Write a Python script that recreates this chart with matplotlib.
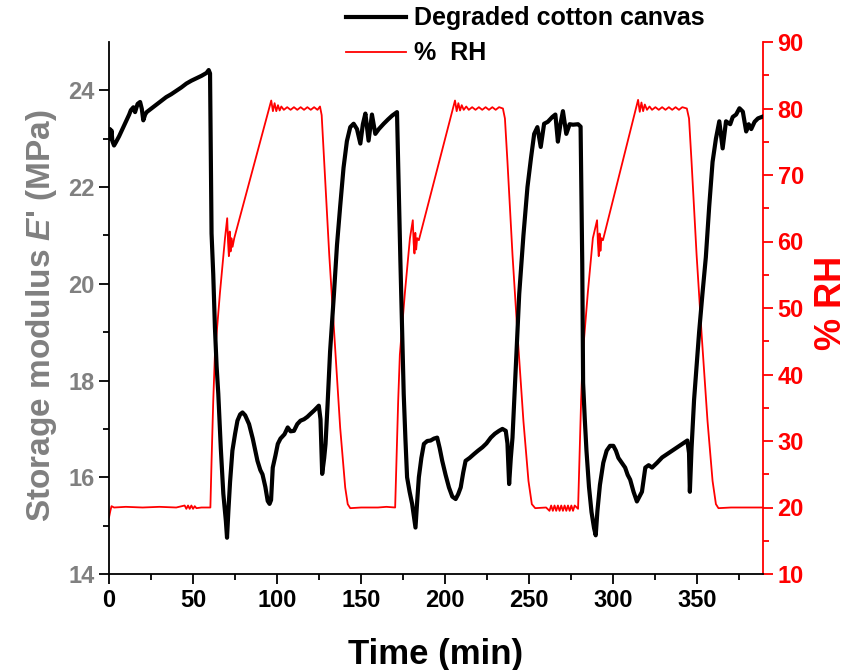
import numpy as np
import matplotlib
matplotlib.use("Agg")
import matplotlib.pyplot as plt

plt.rcParams['font.family'] = ['Liberation Sans', 'DejaVu Sans']
plt.rcParams['font.weight'] = 'bold'
plt.rcParams['mathtext.fontset'] = 'custom'
plt.rcParams['mathtext.it'] = 'Liberation Sans:italic:bold'
plt.rcParams['mathtext.rm'] = 'Liberation Sans:bold'

# Storage modulus E' (MPa) vs time (min)
mod_t = [0, 0.5, 1, 1.5, 2, 3, 4, 6, 8, 10, 12, 13, 14.5, 15.5, 17, 18.5, 19.5, 20.4, 21.5, 22.4,
         25, 28, 31, 34, 37, 40, 43, 46, 49, 52, 55, 58, 59.3,
         60.1, 61, 62, 63, 64, 65, 66.5, 68, 69.5, 70.2, 71, 72, 73.4, 75, 76.4, 78, 79.4, 81, 83.3,
         85.5, 88.3, 90, 91.3, 93, 94.4, 95.5, 96.4, 97.4, 99, 100.4, 102, 104.4, 106.3, 108, 110,
         112, 113.9, 116, 118, 119.8, 122, 124.8, 125.8, 126.8, 128, 128.8, 130, 131.5, 133.8,
         135.6, 137.5, 139.5, 141.5, 143.5, 145.5, 147.5, 149.5, 151, 152.5, 154.4, 156.4, 158.4,
         160.5, 163.4, 166, 168.5, 171.3,
         172.3, 173.3, 174.3, 175.3, 176.3, 177.3, 178.8, 180.3, 181.3, 182.3, 183.3, 184.3, 185.8,
         187.3, 189.3, 191.3, 193.3, 195.2, 196.7, 198.2, 200.2, 202.2, 204.2, 206.2, 207.7, 209.2,
         210.7, 212.1, 214.5, 217.1, 219.5, 222.1, 224.5, 227.1, 229.5, 232.0, 234, 236, 237, 238,
         239, 240, 242, 244, 246.5, 248.9, 251, 252.9, 254.8, 256.8, 258.8, 261, 263.7, 265.5, 267,
         268.5, 270, 272, 274, 276, 279, 280.5,
         281.5, 282, 283, 284, 285.5, 287, 288.5, 289.5, 290.5, 292, 294, 296, 298, 300, 301.5, 303,
         305, 307, 308.5, 310, 312, 314, 315.5, 317, 319, 321, 323, 326, 329, 332, 335, 338, 341,
         344, 345, 345.5, 346.5, 348, 349.5, 351, 353, 355, 357, 359, 361, 363, 365, 367, 369.5, 371,
         373, 375, 377, 379, 380.5, 382, 384, 386, 389]
mod_v = [23.0, 23.2, 23.05, 23.17, 22.95, 22.86, 22.92, 23.05, 23.2, 23.35, 23.5, 23.59, 23.65,
         23.55, 23.72, 23.76, 23.62, 23.38, 23.5, 23.55,
         23.62, 23.7, 23.78, 23.86, 23.92, 23.99, 24.06, 24.14, 24.2, 24.25, 24.3, 24.36, 24.42,
         24.35, 21.04, 20.2, 19.1, 18.3, 17.73, 16.6, 15.66, 15.1, 14.75, 15.3, 15.9, 16.55, 16.9,
         17.17, 17.3, 17.34, 17.28, 17.1,
         16.8, 16.34, 16.15, 16.06, 15.8, 15.51, 15.45, 15.53, 16.2, 16.45, 16.69, 16.8, 16.89,
         17.03, 16.95, 16.96, 17.1, 17.17, 17.2, 17.25, 17.31, 17.38, 17.48, 17.2, 16.07, 16.4,
         16.69, 17.5, 18.6, 19.79,
         20.8, 21.6, 22.4, 22.95, 23.24, 23.31, 23.2, 22.9, 23.3, 23.52, 22.96, 23.5, 23.1,
         23.2, 23.31, 23.4, 23.48, 23.55,
         22.0, 20.5, 19.1, 17.72, 16.8, 16.0, 15.7, 15.45, 15.2, 14.96, 15.5, 16.0, 16.4,
         16.69, 16.75, 16.76, 16.8, 16.82, 16.6, 16.34, 16.05, 15.79, 15.6, 15.55, 15.65, 15.79,
         16.1, 16.34, 16.4, 16.48, 16.55, 16.62, 16.7, 16.82, 16.9, 16.96, 17.0, 16.96, 16.7, 15.86,
         16.4, 16.82, 18.3, 19.79, 21.0, 22.0, 22.6, 23.1, 23.24, 22.83, 23.31, 23.35, 23.45, 23.5,
         22.94, 23.3, 23.57, 23.1, 23.3, 23.29, 23.3, 23.25,
         20.4, 17.95, 17.2, 16.55, 15.8, 15.28, 14.95, 14.8, 15.3, 15.84, 16.3, 16.55, 16.65, 16.65,
         16.55, 16.4, 16.3, 16.2, 16.05, 15.95, 15.7, 15.5, 15.6, 15.7, 16.2, 16.25, 16.2, 16.3,
         16.41, 16.48, 16.55, 16.62, 16.69, 16.76, 16.5, 15.7, 16.6, 17.6, 18.3, 19.0, 19.8, 20.55,
         21.6, 22.52, 23.0, 23.36, 22.8, 23.36, 23.3, 23.45, 23.5, 23.63, 23.56, 23.15, 23.3,
         23.2, 23.35, 23.42, 23.46]

# Relative humidity (%) vs time (min)
rh_t = [0, 0.8, 1.5, 3, 10, 20, 30, 40, 45, 46, 47, 48, 49, 50, 51, 52, 55, 60.3,
        61, 62, 63, 66, 69, 70.3, 70.8, 71.3, 71.8, 72.3, 72.8, 73.5, 74.5,
        96.5, 97.5, 98.5, 99.5, 100.5, 101.5, 102.5, 104, 106, 108, 110, 112, 114, 116, 118, 120,
        122, 124, 125.5,
        126.5, 128, 131, 134, 137.5, 140.5, 142, 143.5, 150, 160, 165, 170.2,
        171, 172, 173, 176, 179, 180.7, 181.2, 181.7, 182.2, 182.7, 183.3, 184.3,
        205.8, 206.8, 207.8, 208.8, 209.8, 211, 212.5, 214, 216, 218, 220, 222, 224, 226, 228, 230,
        232, 234.3,
        235.5, 237, 240, 243, 246.5, 249.5, 251.5, 253.5, 260, 262, 263, 264, 265, 266, 267, 268,
        269, 270, 271, 272, 273, 274, 275, 276, 277, 279,
        279.8, 280.8, 281.8, 284.8, 287.8, 290.3, 290.8, 291.3, 291.8, 292.3, 292.9, 293.8,
        314.7, 315.7, 316.7, 317.7, 318.7, 320, 321.5, 323, 325, 327, 329, 331, 333, 335, 337, 339,
        341, 343.7,
        345, 346.5, 349.5, 352.5, 356, 359, 361, 362.5, 370, 380, 389]
rh_v = [18.5, 19.5, 20.2, 20.0, 20.1, 20.0, 20.1, 20.0, 20.3, 19.8, 20.3, 19.8, 20.3, 19.8, 20.2,
        19.9, 20.0, 20.0,
        27, 36, 43, 52.3, 60.5, 63.5, 60, 57.8, 61.5, 58.5, 60.5, 59.2, 60.5,
        81.2, 79.6, 80.8, 79.6, 80.5, 79.7, 80.3, 79.8, 80.2, 79.8, 80.2, 79.8, 80.2, 79.8, 80.2,
        79.8, 80.2, 79.8, 80.3,
        79, 72, 58, 46, 32, 23, 20.5, 19.9, 20.0, 20.0, 20.1, 20.0,
        27, 36, 43, 52.3, 60.5, 63.2, 59.8, 58.2, 61.3, 58.8, 60.5, 60.2,
        81.2, 79.6, 80.8, 79.7, 80.5, 79.8, 80.3, 79.8, 80.2, 79.8, 80.2, 79.8, 80.2, 79.8, 80.2,
        79.8, 80.2, 80.0,
        78.5, 72, 58, 46, 33, 24, 20.5, 19.9, 20.0, 19.5, 20.3, 19.5, 20.3, 19.5, 20.3, 19.5, 20.3,
        19.5, 20.3, 19.5, 20.3, 19.5, 20.3, 19.5, 20.3, 19.8,
        27, 36, 43, 52.3, 60.5, 63.2, 59.8, 57.8, 61.2, 58.6, 60.5, 60.2,
        81.3, 79.5, 80.9, 79.6, 80.6, 79.8, 80.3, 79.8, 80.2, 79.8, 80.2, 79.8, 80.2, 79.8, 80.2,
        79.8, 80.2, 80.0,
        78.5, 72, 58, 46, 33, 24, 20.5, 19.9, 20.0, 20.0, 20.0]

fig = plt.figure(figsize=(8.49, 6.70), dpi=100)
ax = fig.add_axes([109 / 849, 96 / 670, 654 / 849, 532 / 670])
ax2 = ax.twinx()

l1, = ax.plot(mod_t, mod_v, color='black', lw=3.0, label='Degraded cotton canvas')
l2, = ax2.plot(rh_t, rh_v, color='red', lw=1.3, label='%  RH')

ax.set_zorder(ax2.get_zorder() + 1)
ax.patch.set_visible(False)

ax.set_xlim(0, 389)
ax.set_ylim(14, 25)
ax2.set_ylim(10, 90)

ax.set_xticks(np.arange(0, 351, 50))
ax.set_xticks(np.arange(25, 389, 25), minor=True)
ax.set_yticks(np.arange(14, 25, 2))
ax.set_yticks(np.arange(15, 25, 2), minor=True)
ax2.set_yticks(np.arange(10, 91, 10))
ax2.set_yticks(np.arange(15, 90, 10), minor=True)

ax.spines['top'].set_visible(False)
ax2.spines['top'].set_visible(False)
ax.spines['right'].set_visible(False)
ax2.spines['left'].set_visible(False)
ax2.spines['bottom'].set_visible(False)
ax2.spines['right'].set_color('red')
for sp in ['left', 'bottom']:
    ax.spines[sp].set_linewidth(1.3)
ax2.spines['right'].set_linewidth(1.3)

ax.tick_params(axis='both', which='major', direction='out', length=7, width=1.3, labelsize=17)
ax.tick_params(axis='both', which='minor', direction='out', length=4, width=1.3)
ax.tick_params(axis='y', labelcolor='#808080')
ax2.tick_params(axis='y', which='major', direction='out', length=7, width=1.3, colors='red',
                labelsize=17)
ax2.tick_params(axis='y', which='minor', direction='out', length=4, width=1.3, colors='red')

ax.set_xlabel('Time (min)', fontsize=25, fontweight='bold')
ax.set_ylabel("Storage modulus $\\mathit{E}$' (MPa)", fontsize=24, fontweight='bold',
              color='#808080')
ax2.set_ylabel('% RH', fontsize=26, fontweight='bold', color='red')
ax.xaxis.set_label_coords(0.5, -0.12)
ax.yaxis.set_label_coords(-0.077, 0.485)
ax2.yaxis.set_label_coords(1.078, 0.51)

fig.legend(handles=[l1, l2], loc='upper left', bbox_to_anchor=(345 / 849, 1 - 5 / 670),
           frameon=False, fontsize=18, handlelength=2.4, handletextpad=0.3, labelspacing=0.45,
           borderpad=0.05, borderaxespad=0)

fig.savefig('out.png', dpi=100)
